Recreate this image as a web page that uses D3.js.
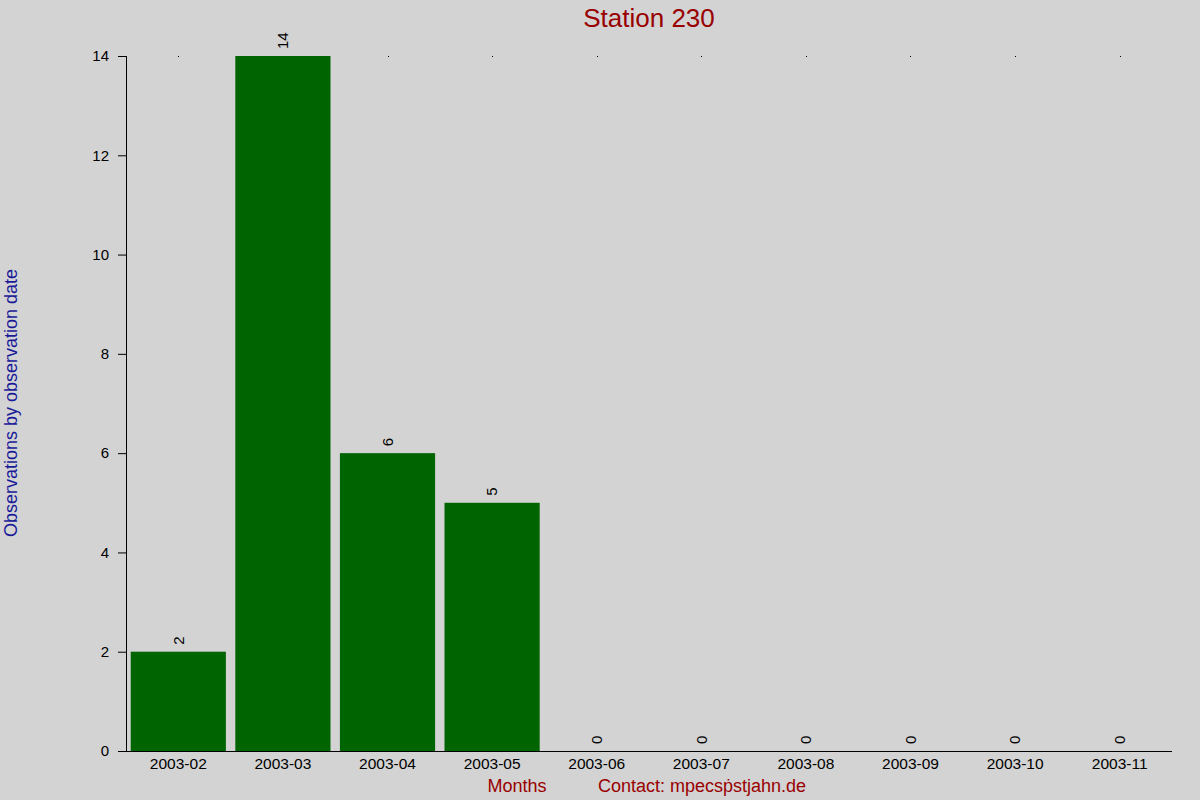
<!DOCTYPE html>
<html lang="en">
  <head>
    <meta charset="utf-8">
    <title>Station 230</title>
    <script src="https://cdn.jsdelivr.net/npm/d3@7"></script>
    <style>
      body { margin: 0; background: #d3d3d3; }
      svg { display: block; font-family: 'Liberation Sans', Arial, sans-serif; }
    </style>
  </head>
  <body>
    <div id='chart'></div>
    <script type='text/javascript'>
      // data
      let months = ['2003-02','2003-03','2003-04','2003-05','2003-06','2003-07','2003-08','2003-09','2003-10','2003-11']
      let counts = [2, 14, 6, 5, 0, 0, 0, 0, 0, 0]
      let y_ticks = [0, 2, 4, 6, 8, 10, 12, 14]

      let width = 1200, height = 800
      let margin = {top: 56, right: 28, bottom: 49, left: 126}

      let svg = d3.select('#chart').append('svg')
        .attr('width', width)
        .attr('height', height)

      svg.append('rect')
        .attr('width', width).attr('height', height)
        .attr('fill', '#d3d3d3')

      let scale_x = d3.scaleBand()
        .domain(months)
        .range([margin.left, width - margin.right])
        .paddingInner(0.09)
        .paddingOuter(0.045)

      let scale_y = d3.scaleLinear()
        .domain([0, 14])
        .range([height - margin.bottom, margin.top])

      // little dots along the top edge
      svg.append('g')
        .selectAll('rect')
        .data(months)
        .enter()
        .append('rect')
        .attr('x', (d) => Math.round(scale_x(d) + scale_x.bandwidth() / 2))
        .attr('y', scale_y(14))
        .attr('width', 1)
        .attr('height', 1)
        .attr('fill', '#000')

      svg.append('g')
        .selectAll('rect')
        .data(counts)
        .enter()
        .append('rect')
        .attr('x', (d, i) => scale_x(months[i]))
        .attr('y', (d) => scale_y(d))
        .attr('width', scale_x.bandwidth())
        .attr('height', (d) => scale_y(0) - scale_y(d))
        .attr('fill', '#006400')

      // value labels, rotated
      svg.append('g')
        .selectAll('text')
        .data(counts)
        .enter()
        .append('text')
        .attr('transform', (d, i) => 'translate(' + (scale_x(months[i]) + scale_x.bandwidth() / 2) + ',' + (scale_y(d) - 7) + ') rotate(-90)')
        .attr('dy', '0.35em')
        .attr('font-size', '15px')
        .attr('fill', '#000')
        .text((d) => d)

      // y axis
      let y_axis = d3.axisLeft(scale_y).tickValues(y_ticks).tickSize(8).tickPadding(9)
      let gy = svg.append('g')
        .attr('transform', 'translate(' + margin.left + ',0)')
        .call(y_axis)
      gy.select('.domain').attr('d', 'M0.5,' + scale_y(14) + 'V' + scale_y(0))
      gy.selectAll('text').attr('font-size', '15px').attr('font-family', null).attr('fill', '#000')

      // x axis
      let x_axis = d3.axisBottom(scale_x).tickSize(0).tickPadding(7)
      let gx = svg.append('g')
        .attr('transform', 'translate(0,' + scale_y(0) + ')')
        .call(x_axis)
      gx.select('.domain').attr('d', 'M118,0.5H' + (width - margin.right))
      gx.selectAll('text').attr('font-size', '15.5px').attr('font-family', null).attr('fill', '#000')

      svg.append('text')
        .attr('x', 649)
        .attr('y', 27)
        .attr('text-anchor', 'middle')
        .attr('font-size', '26px')
        .attr('fill', '#990000')
        .text('Station 230')

      svg.append('text')
        .attr('x', 517)
        .attr('y', 792)
        .attr('text-anchor', 'middle')
        .attr('font-size', '18px')
        .attr('fill', '#990000')
        .text('Months')

      svg.append('text')
        .attr('x', 598)
        .attr('y', 792)
        .attr('font-size', '18px')
        .attr('fill', '#990000')
        .text('Contact: mpecs\u1e57stjahn.de')

      svg.append('text')
        .attr('transform', 'translate(17,403) rotate(-90)')
        .attr('text-anchor', 'middle')
        .attr('font-size', '18px')
        .attr('fill', '#1a1a99')
        .text('Observations by observation date')
    </script>
  </body>
</html>
